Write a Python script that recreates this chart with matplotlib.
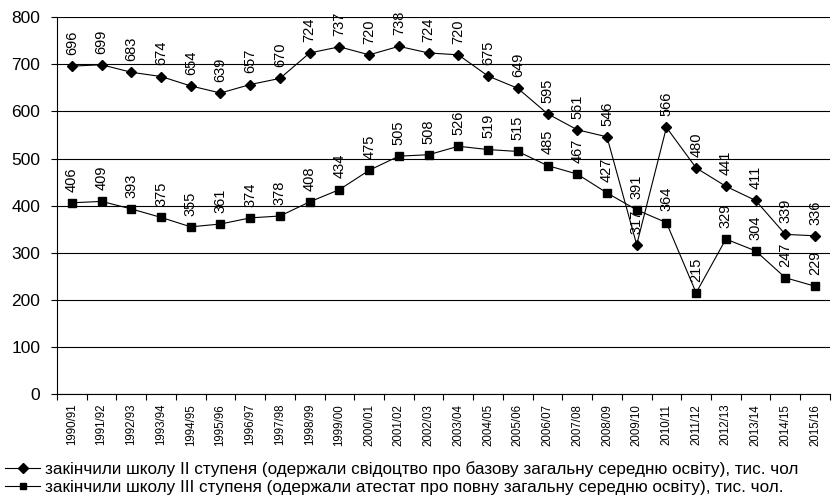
import matplotlib
matplotlib.use("Agg")
import matplotlib.pyplot as plt
import numpy as np

plt.rcParams['font.family'] = ['Liberation Sans', 'DejaVu Sans']

years = ["1990/91", "1991/92", "1992/93", "1993/94", "1994/95", "1995/96", "1996/97",
         "1997/98", "1998/99", "1999/00", "2000/01", "2001/02", "2002/03", "2003/04",
         "2004/05", "2005/06", "2006/07", "2007/08", "2008/09", "2009/10", "2010/11",
         "2011/12", "2012/13", "2013/14", "2014/15", "2015/16"]
basic = [696, 699, 683, 674, 654, 639, 657, 670, 724, 737, 720, 738, 724, 720,
         675, 649, 595, 561, 546, 317, 566, 480, 441, 411, 339, 336]
full = [406, 409, 393, 375, 355, 361, 374, 378, 408, 434, 475, 505, 508, 526,
        519, 515, 485, 467, 427, 391, 364, 215, 329, 304, 247, 229]
name_basic = "закінчили школу ІІ ступеня (одержали свідоцтво про базову загальну середню освіту), тис. чол"
name_full = "закінчили школу ІІІ ступеня (одержали атестат про повну загальну середню освіту), тис. чол."

fig = plt.figure(figsize=(8.32, 5.04), dpi=100)
ax = fig.add_axes([0.0685, 0.218, 0.929, 0.748])

x = np.arange(len(years))
l1, = ax.plot(x, basic, color="black", lw=0.8, marker="D", ms=5, zorder=3)
l2, = ax.plot(x, full, color="black", lw=0.8, marker="s", ms=6, zorder=3)

# підписи значень над точками
for xi, v in zip(x, basic):
    ax.annotate(str(v), (xi, v), xytext=(0, 8), textcoords="offset points",
                rotation=90, ha="center", va="bottom", fontsize=10.5)
for xi, v in zip(x, full):
    ax.annotate(str(v), (xi, v), xytext=(0, 8), textcoords="offset points",
                rotation=90, ha="center", va="bottom", fontsize=10.5)

ax.set_ylim(0, 800)
ax.set_yticks(range(0, 801, 100))
ax.set_xlim(-0.5, len(years) - 0.5)
ax.set_xticks(x)
ax.set_xticklabels(years, rotation=90, fontsize=8.3)
ax.set_xticks(np.arange(-0.5, len(years), 1), minor=True)
ax.tick_params(axis="x", which="major", length=0, pad=7)
ax.tick_params(axis="x", which="minor", length=4, width=0.8, direction="out")
ax.tick_params(axis="y", labelsize=12.5, length=4, width=0.8, pad=8)
ax.grid(axis="y", color="black", lw=0.8)
ax.set_axisbelow(True)
for s in ["top", "right"]:
    ax.spines[s].set_visible(False)
for s in ["left", "bottom"]:
    ax.spines[s].set_linewidth(0.8)

leg = fig.legend([l1, l2], [name_basic, name_full], loc="lower left",
                 bbox_to_anchor=(0.0, 0.008), frameon=False, handlelength=2.05,
                 handletextpad=0.3, labelspacing=0.15, borderaxespad=0.15,
                 borderpad=0.15, prop={"size": 12.3})
for h in leg.legend_handles:
    h.set_markersize(5)

fig.savefig("out.png", dpi=100)
